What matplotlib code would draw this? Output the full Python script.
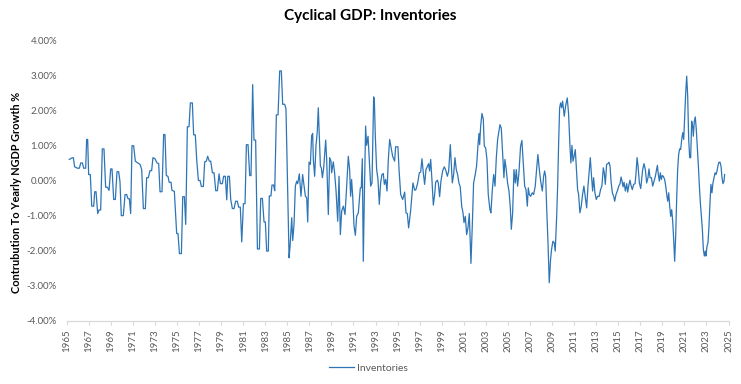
import matplotlib
matplotlib.use("Agg")
import matplotlib.pyplot as plt
from matplotlib.ticker import FuncFormatter, MultipleLocator
from matplotlib.lines import Line2D

plt.rcParams['font.family'] = ['Lato', 'DejaVu Sans']

title = "Cyclical GDP: Inventories"
y_label = "Contrubution To Yearly NGDP Growth %"
series_name = "Inventories"
x_ticks = list(range(1965, 2026, 2))

dates = [
1965.24,1965.45,1965.60,1965.72,1965.97,1966.15,1966.27,1966.42,1966.54,1966.72,1966.81,1966.90,1966.99,1967.14,1967.27,1967.45,1967.54,1967.66,1967.81,1967.93,
1968.08,1968.23,1968.38,1968.53,1968.68,1968.84,1968.99,1969.11,1969.26,1969.41,1969.56,1969.71,1969.83,1969.95,1970.13,1970.29,1970.44,1970.56,1970.68,1970.80,
1970.92,1971.07,1971.22,1971.44,1971.65,1971.80,1971.95,1972.13,1972.25,1972.40,1972.55,1972.70,1972.82,1973.00,1973.19,1973.34,1973.46,1973.64,1973.79,1973.91,
1974.03,1974.18,1974.29,1974.46,1974.54,1974.76,
1974.97,1975.09,1975.22,1975.40,1975.52,1975.67,1975.79,1975.94,1976.09,1976.21,1976.39,1976.51,1976.66,1976.79,1976.94,1977.09,1977.21,1977.39,1977.51,1977.66,
1977.78,1977.93,1978.06,1978.21,1978.36,1978.51,1978.66,1978.81,1978.93,1979.11,1979.23,1979.38,1979.51,1979.60,1979.75,1979.87,1980.02,1980.17,1980.32,1980.47,
1980.59,1980.74,1980.87,1981.02,1981.17,1981.29,1981.44,1981.59,1981.71,1981.86,1981.98,1982.13,1982.29,1982.47,1982.59,1982.74,1982.89,1983.01,1983.13,1983.28,
1983.37,1983.52,1983.61,1983.76,1983.86,1984.01,1984.16,1984.31,1984.46,1984.58,1984.76,1984.88,
1985.16,1985.25,1985.40,1985.49,1985.61,1985.73,1985.85,1985.94,1986.09,1986.24,1986.39,1986.52,1986.64,1986.76,1986.85,1986.97,1987.09,1987.21,1987.30,1987.36,
1987.48,1987.60,1987.72,1987.81,1987.90,1988.00,1988.09,1988.18,1988.30,1988.48,1988.57,1988.72,1988.84,1988.96,1989.02,1989.17,1989.29,1989.42,1989.57,1989.69,
1989.81,1989.93,1990.08,1990.23,1990.35,1990.53,1990.65,1990.74,1990.83,1990.93,1991.05,1991.17,1991.29,1991.44,1991.62,1991.71,1991.80,1991.89,1991.98,1992.10,
1992.19,1992.32,1992.44,1992.56,1992.68,1992.83,1992.89,1992.98,1993.10,1993.22,1993.34,1993.46,1993.58,1993.70,1993.80,1993.92,1994.04,1994.16,1994.28,1994.40,
1994.55,1994.73,1994.82,1995.03,1995.13,1995.28,1995.46,1995.64,1995.76,1995.88,1996.00,1996.18,1996.39,1996.55,1996.67,1996.82,1996.97,1997.09,1997.21,1997.33,
1997.45,1997.57,1997.69,1997.81,1997.90,1998.00,1998.12,1998.24,1998.36,1998.45,1998.60,1998.69,1998.81,1998.93,1999.08,1999.23,1999.35,1999.51,1999.63,1999.78,
1999.87,1999.96,2000.08,2000.20,2000.32,2000.44,2000.56,2000.68,2000.81,2000.93,2001.02,2001.14,2001.26,2001.38,2001.50,2001.65,2001.77,2001.89,2002.04,2002.16,
2002.29,2002.38,2002.44,2002.53,2002.65,2002.77,2002.86,2002.98,2003.10,2003.22,2003.37,2003.46,2003.58,2003.71,2003.83,2003.95,2004.07,2004.28,
2004.40,2004.52,2004.64,2004.73,2004.85,2004.97,2005.10,2005.22,2005.31,2005.43,2005.55,2005.67,2005.76,2005.88,2006.00,2006.15,2006.27,2006.39,2006.52,2006.64,
2006.76,2006.85,2006.94,2007.06,2007.21,2007.33,2007.48,2007.60,2007.72,2007.85,2007.97,2008.12,2008.24,2008.33,2008.42,2008.51,2008.63,2008.75,2008.87,2008.96,
2009.08,2009.20,2009.29,2009.41,2009.51,2009.60,2009.69,2009.78,2009.87,2009.96,2010.11,2010.23,2010.38,2010.50,2010.62,2010.71,2010.81,2010.90,2010.99,2011.11,
2011.23,2011.32,2011.41,2011.53,2011.65,2011.77,2011.89,2012.01,2012.14,2012.26,2012.38,2012.47,2012.56,2012.68,2012.77,2012.89,2013.01,2013.13,2013.28,2013.40,
2013.52,2013.65,2013.74,2013.83,2013.95,2014.07,2014.16,2014.26,
2014.35,2014.47,2014.59,2014.68,2014.80,2014.92,2015.05,2015.17,2015.26,2015.35,2015.44,2015.53,2015.65,2015.77,2015.86,2015.98,2016.07,2016.16,2016.28,2016.40,
2016.53,2016.62,2016.71,2016.80,2016.92,2017.04,2017.13,2017.22,2017.34,2017.46,2017.58,2017.70,2017.79,2017.89,2018.01,2018.13,2018.25,2018.37,2018.46,2018.55,
2018.64,2018.73,2018.82,2018.91,2019.00,2019.09,2019.21,2019.31,2019.40,2019.49,2019.58,2019.67,2019.76,2019.85,2019.94,2020.03,2020.12,2020.21,2020.30,2020.39,
2020.48,2020.57,2020.66,2020.76,2020.85,2020.94,2021.03,2021.12,2021.21,2021.30,2021.39,2021.48,2021.57,2021.66,2021.75,2021.81,2021.90,2021.99,2022.08,2022.18,
2022.27,2022.36,2022.45,2022.54,2022.63,2022.72,2022.81,2022.90,2022.96,2023.05,2023.14,2023.23,2023.32,2023.41,2023.50,2023.59,2023.69,2023.78,2023.87,2023.96,
2024.05,2024.14,2024.23,2024.32,2024.41,2024.50,2024.59,2024.65,
]

inventories = [
0.60,0.64,0.65,0.39,0.35,0.35,0.50,0.50,0.35,0.35,1.17,1.17,0.17,0.17,-0.73,-0.73,-0.32,-0.32,-0.94,-0.84,
-0.84,0.90,0.90,-0.19,-0.19,-0.28,0.33,0.33,-0.54,-0.54,0.25,0.25,-0.03,-1.00,-1.00,-0.40,-0.40,-0.52,-0.52,-0.94,
0.99,0.99,0.55,0.50,0.46,0.31,-0.80,-0.80,0.08,0.08,0.28,0.28,0.65,0.62,0.50,0.48,-0.32,-0.32,1.31,1.31,
0.14,0.12,-0.05,-0.05,-0.28,-0.31,
-1.51,-1.51,-2.08,-2.08,-0.46,-0.46,-1.25,1.53,1.53,2.21,2.21,1.30,1.30,0.57,0.00,0.00,-0.17,-0.17,0.53,0.55,
0.69,0.55,0.55,0.22,0.22,-0.29,-0.29,0.19,-0.09,-0.09,0.12,0.12,-0.55,0.12,0.12,-0.54,-0.80,-0.80,-0.59,-0.59,
-0.76,-0.76,-1.75,-0.66,-0.66,1.02,1.02,0.14,0.14,2.73,1.15,1.15,-1.95,-1.95,-0.51,-0.51,-1.18,-1.18,-2.01,-2.01,
-0.44,-0.44,-0.13,-0.13,-0.29,1.87,1.87,3.12,3.12,2.17,2.17,2.04,
-2.20,-1.88,-1.06,-1.71,-1.25,-0.16,-0.02,-0.09,0.19,-0.45,0.17,-0.16,-0.45,-0.49,-1.18,0.52,0.46,1.28,1.34,0.60,
0.12,0.99,1.40,2.07,1.26,0.41,0.36,0.08,0.36,1.15,0.60,-0.97,0.65,0.55,0.22,0.53,0.22,-0.30,-1.16,0.12,
-1.54,-0.87,-0.73,-0.97,-0.35,0.69,0.31,-0.45,0.03,-0.45,-1.30,-1.56,-1.02,-0.92,-0.21,-0.21,0.62,-2.30,-0.54,1.55,
1.00,1.26,0.55,-0.16,-0.07,2.38,2.30,1.26,0.31,0.03,-0.68,-0.07,0.17,0.20,-0.11,0.03,-0.30,0.60,1.17,0.96,
0.69,0.55,0.96,0.96,0.31,-0.40,-0.54,-0.33,-0.92,-0.94,-1.35,-0.87,-0.07,-0.28,-0.25,-0.07,0.22,0.24,0.62,0.22,
-0.11,0.31,0.39,0.48,0.27,0.60,-0.02,-0.70,-0.40,-0.05,0.01,-0.07,-0.46,-0.02,0.27,0.39,0.31,0.12,0.27,1.02,
0.50,-0.07,0.17,0.65,0.31,0.17,-0.07,-0.18,-0.73,-0.92,-1.20,-1.02,-1.54,-1.35,-0.94,-2.36,-1.30,-0.07,0.17,0.41,
1.02,1.34,1.02,1.55,1.91,1.74,0.98,0.93,0.60,-0.40,-0.83,-0.92,-0.30,0.17,-0.16,0.65,1.17,1.59,
1.49,0.79,0.08,0.60,0.31,-0.07,-0.30,-0.78,-1.39,-0.92,0.31,-0.07,0.31,-0.16,0.22,0.98,1.14,0.50,-0.16,-0.26,
-0.73,-0.21,-0.40,-0.45,-0.35,-0.40,-0.16,0.31,0.74,0.31,-0.02,-0.30,0.12,0.27,0.12,-0.73,-1.73,-2.91,-2.24,-1.96,
-1.73,-1.77,-2.01,-1.11,-0.16,1.07,2.07,2.21,2.07,2.26,1.83,2.12,2.35,1.91,1.02,0.50,1.00,0.55,0.67,0.88,
0.22,-0.26,-0.40,-0.92,-0.73,-0.40,-0.16,-0.45,-0.78,-0.16,0.31,0.65,0.22,-0.30,0.08,-0.35,-0.54,-0.45,-0.45,-0.26,
-0.16,0.36,0.22,-0.11,0.46,0.48,0.52,0.41,
-0.02,-0.35,-0.45,-0.59,-0.40,-0.30,-0.16,-0.09,0.10,-0.02,-0.18,-0.05,-0.30,-0.09,-0.33,-0.11,0.01,-0.14,-0.26,-0.11,
-0.09,0.22,0.65,0.41,-0.07,-0.23,0.03,0.31,0.48,0.31,-0.07,0.08,0.33,0.08,0.08,-0.16,-0.02,0.12,0.27,0.43,
0.17,-0.02,0.22,0.03,0.14,0.12,0.03,-0.16,-0.40,-0.59,-0.35,-0.73,-1.02,-0.83,-1.16,-1.68,-2.30,-1.58,-0.54,0.31,
0.74,0.90,0.88,1.17,1.36,1.17,1.83,2.50,2.97,2.40,1.17,0.65,0.65,1.69,1.55,1.26,1.69,1.81,1.45,0.93,
0.41,-0.16,-0.64,-1.02,-1.39,-1.96,-2.15,-2.01,-2.15,-1.87,-1.77,-1.30,-0.64,-0.11,-0.35,-0.07,0.08,0.22,0.17,0.27,
0.43,0.52,0.52,0.41,0.08,-0.09,-0.02,0.17,
]

W, H = 741, 384
fig = plt.figure(figsize=(W / 100, H / 100), dpi=100)
left, right, top, bottom = 66.7, 728.5, 40, 321
ax = fig.add_axes([left / W, 1 - bottom / H, (right - left) / W, (bottom - top) / H])

line_color = '#2E75B6'
ax.plot(dates, inventories, color=line_color, lw=0.9, solid_joinstyle='round')

ax.set_xlim(1965, 2025)
ax.set_ylim(-4, 4)
ax.yaxis.set_major_locator(MultipleLocator(1))
ax.yaxis.set_major_formatter(FuncFormatter(lambda v, p: f"{v:.2f}%"))
ax.tick_params(axis='y', length=0, pad=7, labelsize=7, labelcolor='#595959')

for s in ax.spines.values():
    s.set_visible(False)

# x labels at the bottom, no tick marks
ax.set_xticks(x_ticks)
ax.set_xticklabels([str(y) for y in x_ticks], rotation=90)
ax.tick_params(axis='x', length=0, pad=6, labelsize=7, labelcolor='#595959')

# zero axis line with ticks
sec = ax.secondary_xaxis(0)
sec.set_xticks(x_ticks)
sec.set_xticklabels([])
sec.tick_params(axis='x', length=3, width=0.8, color='#D9D9D9', direction='out')
sec.spines['bottom'].set_color('#D9D9D9')
sec.spines['bottom'].set_linewidth(0.9)

fig.text(370 / W, 1 - 16 / H, title, ha='center', va='center', fontsize=11, fontweight='bold', color='black')
fig.text(17 / W, 1 - 192 / H, y_label, ha='center', va='center', rotation=90, fontsize=7.9, fontweight='bold', color='black')

handle = Line2D([], [], color=line_color, lw=0.9)
fig.legend([handle], [series_name], loc='center', bbox_to_anchor=(368 / W, 1 - 368 / H), frameon=False,
           fontsize=7.5, labelcolor='#595959', handlelength=2.4, handletextpad=0.3)

fig.savefig('out.png', dpi=100)
